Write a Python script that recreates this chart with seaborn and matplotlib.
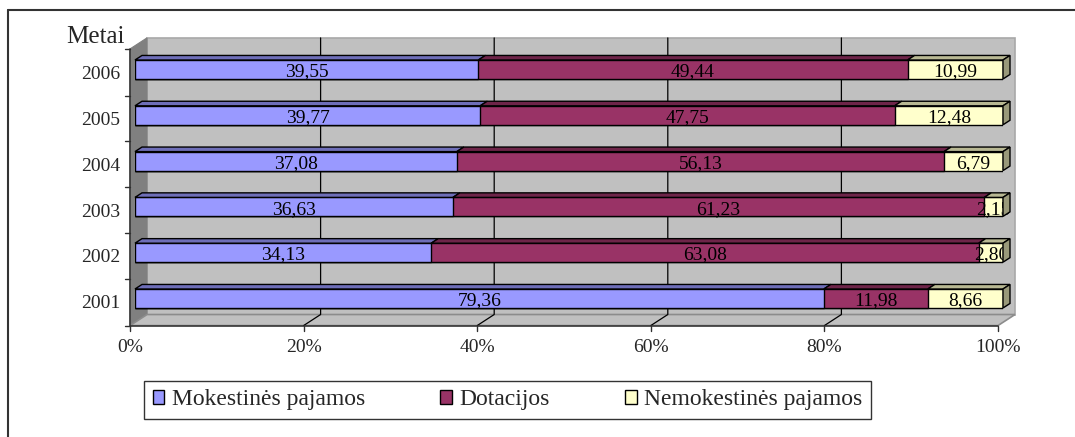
import numpy as np
import pandas as pd
import matplotlib
matplotlib.use("Agg")
import matplotlib.pyplot as plt
import matplotlib.transforms as mtransforms
from matplotlib.patches import Polygon, Patch
from matplotlib.lines import Line2D
import seaborn as sns

# ----------------------------------------------------------------------
# DATA
# ----------------------------------------------------------------------
years = ["2006", "2005", "2004", "2003", "2002", "2001"]
mokestines = [39.55, 39.77, 37.08, 36.63, 34.13, 79.36]
dotacijos = [49.44, 47.75, 56.13, 61.23, 63.08, 11.98]
nemokestines = [10.99, 12.48, 6.79, 2.15, 2.80, 8.66]
series_names = ["Mokestinės pajamos", "Dotacijos", "Nemokestinės pajamos"]
x_ticks = [0, 20, 40, 60, 80, 100]
x_tick_labels = ["0%", "20%", "40%", "60%", "80%", "100%"]

colors = ["#9999FF", "#993366", "#FFFFCC"]

sns.set_style("white")
plt.rcParams["font.family"] = ["Liberation Serif", "DejaVu Serif"]

W, H, DPI = 1075, 437, 100
fig = plt.figure(figsize=(W / DPI, H / DPI), dpi=DPI)

# layout in pixels (front face of the bars)
X0, X1 = 135, 1003          # 0% .. 100%
C0_PX, C_STEP = 69.5, 45.8  # first category centre, category spacing
C_TOP, C_BOT = -0.52, 5.52
y_top_px = C0_PX + C_STEP * C_TOP
y_bot_px = C0_PX + C_STEP * C_BOT
ax = fig.add_axes([X0 / W, 1 - y_bot_px / H, (X1 - X0) / W, (y_bot_px - y_top_px) / H])

KX = 100 / (X1 - X0)   # data units per pixel (x)
KY = 1 / C_STEP        # category units per pixel (y)
SLOPE = 0.65


def P(x, c, d):
    """data point (x %, category c) pushed back by depth d pixels"""
    return (x + d * KX, c - d * SLOPE * KY)


D_FRONT, D_BAR, D_WALL = -5, 7, 12

# ----------------------------------------------------------------------
# normalise to 100 % and stack
# ----------------------------------------------------------------------
df = pd.DataFrame({"Metai": years, "m": mokestines, "d": dotacijos, "n": nemokestines})
tot = df[["m", "d", "n"]].sum(axis=1)
for k in ["m", "d", "n"]:
    df[k + "_pct"] = df[k] / tot * 100
df["c1"] = df["m_pct"]
df["c2"] = df["m_pct"] + df["d_pct"]
df["c3"] = df["c2"] + df["n_pct"]

# ----------------------------------------------------------------------
# walls, floor, gridlines
# ----------------------------------------------------------------------
ax.add_patch(Polygon([P(0, C_TOP, D_WALL), P(100, C_TOP, D_WALL), P(100, C_BOT, D_WALL),
                      P(0, C_BOT, D_WALL)], closed=True, facecolor="#C0C0C0",
                     edgecolor="#A8A8A8", lw=1.2, clip_on=False, zorder=0.1))
ax.add_patch(Polygon([P(0, C_TOP, D_FRONT), P(0, C_TOP, D_WALL), P(0, C_BOT, D_WALL),
                      P(0, C_BOT, D_FRONT)], closed=True, facecolor="#808080",
                     edgecolor="#808080", lw=0.8, clip_on=False, zorder=0.2))
ax.add_patch(Polygon([P(0, C_BOT, D_FRONT), P(0, C_BOT, D_WALL), P(100, C_BOT, D_WALL),
                      P(100, C_BOT, D_FRONT)], closed=True, facecolor="#C0C0C0",
                     edgecolor="#8C8C8C", lw=1.2, clip_on=False, zorder=0.2))

for gx in x_ticks[1:-1]:
    pts = [P(gx, C_TOP, D_WALL), P(gx, C_BOT, D_WALL), P(gx, C_BOT, D_FRONT)]
    ax.plot([p[0] for p in pts], [p[1] for p in pts], color="black", lw=0.9,
            clip_on=False, zorder=0.3)

# front axes lines and tick marks
pts = [P(0, C_TOP, D_FRONT), P(0, C_BOT, D_FRONT), P(100, C_BOT, D_FRONT)]
ax.plot([p[0] for p in pts], [p[1] for p in pts], color="#303030", lw=1.1,
        clip_on=False, zorder=0.4)
for gx in x_ticks:
    a = P(gx, C_BOT, D_FRONT)
    ax.plot([a[0], a[0]], [a[1], a[1] + 5 * KY], color="#303030", lw=1.0, clip_on=False)
for cy in [C_TOP, 0.5, 1.5, 2.5, 3.5, 4.5, C_BOT]:
    a = P(0, cy, D_FRONT)
    ax.plot([a[0], a[0] - 5 * KX], [a[1], a[1]], color="#303030", lw=1.0, clip_on=False)

# ----------------------------------------------------------------------
# bars (front faces drawn with seaborn, stacked by overlaying cumulative sums)
# ----------------------------------------------------------------------
BAR_W = 0.415
for col, color in zip(["c3", "c2", "c1"], colors[::-1]):
    sns.barplot(data=df, x=col, y="Metai", orient="h", color=color, width=BAR_W,
                edgecolor="black", linewidth=1.0, saturation=1, ax=ax, zorder=1)

depth_dx = D_BAR * KX
depth_dy = -D_BAR * SLOPE * KY
for i in range(len(years)):
    top = i - BAR_W / 2
    bot = i + BAR_W / 2
    lefts = [0, df["c1"][i], df["c2"][i]]
    rights = [df["c1"][i], df["c2"][i], df["c3"][i]]
    vals = [df["m"][i], df["d"][i], df["n"][i]]
    for j in range(3):
        rgb = np.array(matplotlib.colors.to_rgb(colors[j]))
        ax.add_patch(Polygon([(lefts[j], top), (rights[j], top),
                              (rights[j] + depth_dx, top + depth_dy),
                              (lefts[j] + depth_dx, top + depth_dy)], closed=True,
                             facecolor=rgb * 0.72, edgecolor="black", lw=1.0,
                             clip_on=False, zorder=1.5))
        ax.text((lefts[j] + rights[j]) / 2, i + 0.05, f"{vals[j]:.2f}".replace(".", ","),
                ha="center", va="center", fontsize=14, color="black", zorder=3)
    # right side face
    rgb = np.array(matplotlib.colors.to_rgb(colors[2]))
    r = rights[2]
    ax.add_patch(Polygon([(r, top), (r + depth_dx, top + depth_dy),
                          (r + depth_dx, bot + depth_dy), (r, bot)], closed=True,
                         facecolor=rgb * 0.6, edgecolor="black", lw=1.0,
                         clip_on=False, zorder=4))

# ----------------------------------------------------------------------
# axes limits, tick labels
# ----------------------------------------------------------------------
ax.set_xlim(0, 100)
ax.set_ylim(C_BOT, C_TOP)
for s in ax.spines.values():
    s.set_visible(False)
ax.set_xlabel("")
ax.set_ylabel("")
ax.set_facecolor("none")
ax.set_xticks(x_ticks, labels=x_tick_labels)
ax.set_yticks(range(len(years)), labels=years)
ax.tick_params(axis="x", length=0, pad=9.5, labelsize=14)
ax.tick_params(axis="y", length=0, pad=6.8, labelsize=14)
shift = mtransforms.ScaledTranslation(-5 / DPI, -3.25 / DPI, fig.dpi_scale_trans)
for lab in ax.get_xticklabels() + ax.get_yticklabels():
    lab.set_transform(lab.get_transform() + shift)

fig.text(125 / W, 1 - 43 / H, "Metai", ha="right", va="baseline", fontsize=18)

# legend
handles = [Patch(facecolor=c, edgecolor="black", lw=1.0) for c in colors]
leg = fig.legend(handles, series_names, loc="center", bbox_to_anchor=(507.5 / W, 1 - 400 / H),
                 ncol=3, fontsize=17, frameon=True, fancybox=False, edgecolor="black",
                 handlelength=0.5, handleheight=0.5, handletextpad=0.3, columnspacing=3.2,
                 borderpad=0.35, borderaxespad=0)
leg.get_frame().set_linewidth(1.0)

# chart border (top and left only)
fig.add_artist(Line2D([8 / W, 1], [1 - 10 / H, 1 - 10 / H], transform=fig.transFigure,
                      color="#333333", lw=1.5))
fig.add_artist(Line2D([8 / W, 8 / W], [0, 1 - 10 / H], transform=fig.transFigure,
                      color="#333333", lw=1.5))

fig.savefig("out.png", dpi=DPI)
